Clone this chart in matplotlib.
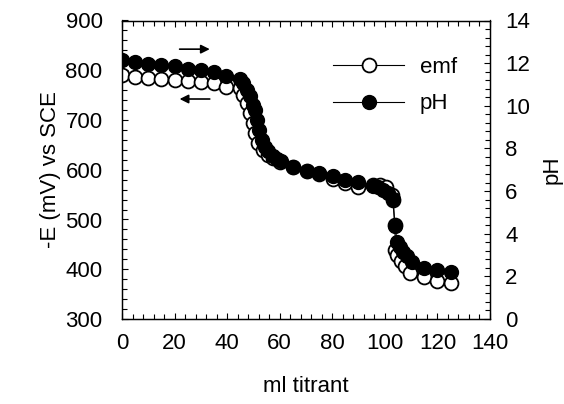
import matplotlib
matplotlib.use("Agg")
import matplotlib.pyplot as plt
from matplotlib.ticker import MultipleLocator

plt.rcParams['font.family'] = ['Liberation Sans', 'DejaVu Sans']

emf_ml = [0, 5, 10, 15, 20, 25, 30, 35, 39.7, 44.9, 46.1, 47.4, 48.7, 49.7, 50.6, 51.9,
          53.7, 55.6, 57.3, 60.0, 65.2, 70.3, 74.9, 80.1, 84.9, 89.9, 95.3, 98.1, 100.6,
          102.6, 103.2, 103.8, 104.0, 104.7, 106.0, 107.5, 109.7, 114.9, 119.9, 125.0]
emf_mv = [791, 787, 784, 782, 781, 779, 776, 774, 767, 764, 750, 734, 714, 694, 674, 653,
          640, 630, 623, 616, 606, 598, 592, 581, 574, 566, 570, 570, 566,
          549, 539, 489, 439, 429, 417, 407, 392, 385, 376, 372]

ph_ml = [0, 5, 10, 15, 20, 25, 30, 35, 39.7, 44.9, 46.1, 47.4, 48.7, 49.7, 50.6, 51.5,
         52.2, 53.1, 54.4, 55.6, 57.3, 58.8, 60.4, 65.2, 70.3, 74.9, 80.1, 84.9, 89.9,
         95.3, 97.5, 99.4, 101.3, 103.0, 103.8, 104.7, 105.7, 107.0, 108.5, 110.2,
         114.9, 119.9, 125.0]
ph_val = [12.13, 12.05, 11.96, 11.93, 11.85, 11.72, 11.66, 11.58, 11.41, 11.25, 11.07,
          10.75, 10.44, 10.05, 9.81, 9.34, 8.87, 8.40, 8.09, 7.86, 7.65, 7.50, 7.39, 7.15,
          6.96, 6.84, 6.71, 6.53, 6.42, 6.26, 6.17, 6.06, 5.90, 5.62, 4.38, 3.63, 3.40,
          3.16, 2.96, 2.69, 2.38, 2.30, 2.22]

fig = plt.figure(figsize=(5.64, 4.04), dpi=100)
ax = fig.add_axes([122/564, 1 - 319/404, 368/564, 298.5/404])
ax2 = ax.twinx()

ms = 10
l1, = ax.plot(emf_ml, emf_mv, '-o', color='black', lw=0.8, ms=ms,
              mfc='white', mec='black', mew=1.3, label='emf', zorder=2)
l2, = ax2.plot(ph_ml, ph_val, '-o', color='black', lw=0.8, ms=ms,
               mfc='black', mec='black', label='pH', zorder=3)

ax.set_xlim(0, 140)
ax.set_ylim(300, 900)
ax2.set_ylim(0, 14)

ax.xaxis.set_major_locator(MultipleLocator(20))
ax.xaxis.set_minor_locator(MultipleLocator(4))
ax.yaxis.set_major_locator(MultipleLocator(100))
ax.yaxis.set_minor_locator(MultipleLocator(20))
ax2.yaxis.set_major_locator(MultipleLocator(2))
ax2.yaxis.set_minor_locator(MultipleLocator(0.4))

fs = 16
ax.tick_params(axis='x', which='both', direction='in', top=True, bottom=True,
               labelsize=fs, pad=10)
ax.tick_params(axis='y', which='both', direction='in', left=True, right=False,
               labelsize=fs, pad=14)
ax.tick_params(which='major', length=4.5, width=0.8)
ax.tick_params(which='minor', length=3.5, width=0.8)
ax2.tick_params(axis='y', which='both', direction='in', labelsize=fs, pad=11)
ax2.tick_params(which='major', length=4.5, width=0.8)
ax2.tick_params(which='minor', length=3.5, width=0.8)

for a in (ax, ax2):
    for s in a.spines.values():
        s.set_linewidth(0.9)

ax.set_xlabel('ml titrant', fontsize=fs, labelpad=16)
ax.set_ylabel('-E (mV) vs SCE', fontsize=fs, labelpad=3)
ax2.set_ylabel('pH', fontsize=fs, labelpad=8)

ax2.legend(handles=[l1, l2], loc='upper right', frameon=False, fontsize=fs,
           handlelength=3.2, handletextpad=0.7, labelspacing=0.7,
           bbox_to_anchor=(0.965, 0.945))

ax.annotate('', xy=(0.246, 0.904), xytext=(0.149, 0.904), xycoords='axes fraction',
            arrowprops=dict(arrowstyle='-|>', color='black', lw=1.2, mutation_scale=13))
ax.annotate('', xy=(0.149, 0.737), xytext=(0.246, 0.737), xycoords='axes fraction',
            arrowprops=dict(arrowstyle='-|>', color='black', lw=1.2, mutation_scale=13))

fig.savefig('out.png', dpi=100)
